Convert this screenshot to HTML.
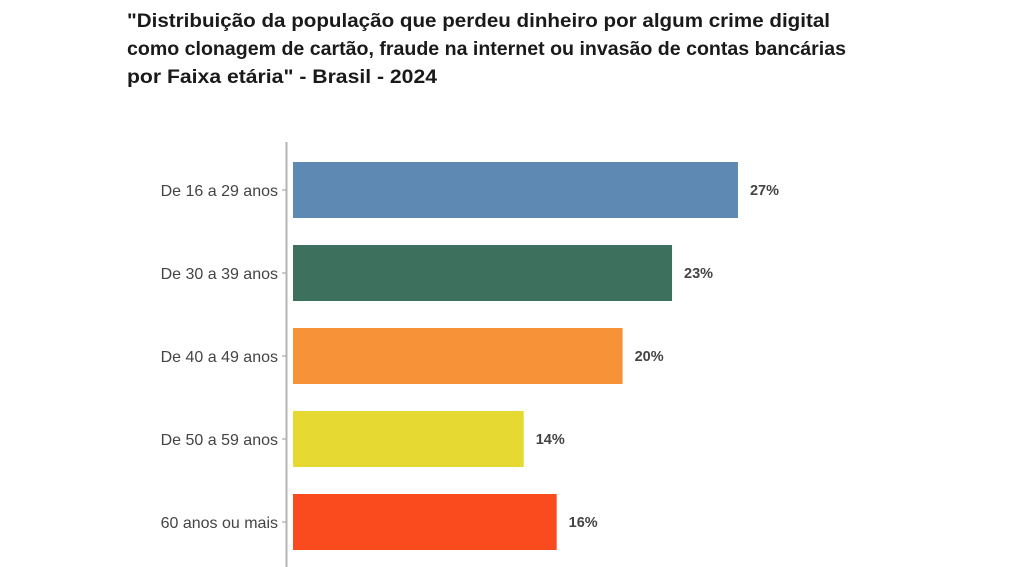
<!DOCTYPE html>
<html><head><meta charset="utf-8"><style>
html,body{margin:0;padding:0;background:#fff;}
svg{display:block;font-family:"Liberation Sans",sans-serif;}
</style></head><body>
<svg id="chart" width="1024" height="567" viewBox="0 0 1024 567">
<g font-weight="bold" font-size="19" fill="#1a1a1a">
<text x="127" y="27" textLength="703" lengthAdjust="spacingAndGlyphs">"Distribuição da população que perdeu dinheiro por algum crime digital</text>
<text x="127" y="55" textLength="719" lengthAdjust="spacingAndGlyphs">como clonagem de cartão, fraude na internet ou invasão de contas bancárias</text>
<text x="127" y="83" textLength="310" lengthAdjust="spacingAndGlyphs">por Faixa etária" - Brasil - 2024</text>
</g>
<line x1="286.5" y1="142" x2="286.5" y2="567" stroke="#b5b5b5" stroke-width="2"/>
<g id="bars"></g>
</svg>
<script>
const categories = ["De 16 a 29 anos","De 30 a 39 anos","De 40 a 49 anos","De 50 a 59 anos","60 anos ou mais"];
const values = [27,23,20,14,16];
const valueLabels = ["27%","23%","20%","14%","16%"];
const colors = ["#5e89b2","#3e705e","#f79239","#e5d932","#fa4b1f"];
const x0 = 293, pxPer = 16.48;
const xs = v => x0 + v*pxPer;
const bandTop = 162, band = 83, barH = 56;
const ys = i => bandTop + i*band;
const ns = "http://www.w3.org/2000/svg";
const g = document.getElementById('bars');
categories.forEach((c,i)=>{
  const y = ys(i);
  const r = document.createElementNS(ns,'rect');
  r.setAttribute('x',x0); r.setAttribute('y',y);
  r.setAttribute('width',xs(values[i])-x0); r.setAttribute('height',barH);
  r.setAttribute('fill',colors[i]);
  
  
  g.appendChild(r);
  const t = document.createElementNS(ns,'line');
  t.setAttribute('x1',282); t.setAttribute('x2',286);
  t.setAttribute('y1',y+barH/2); t.setAttribute('y2',y+barH/2);
  t.setAttribute('stroke','#999'); t.setAttribute('stroke-width','1');
  
  
  g.appendChild(t);
  const l = document.createElementNS(ns,'text');
  l.setAttribute('x',278); l.setAttribute('y',y+barH/2+6);
  l.setAttribute('text-anchor','end'); l.setAttribute('font-size','16');
  l.setAttribute('fill','#444'); l.textContent = c;
  
  
  g.appendChild(l);
  const v = document.createElementNS(ns,'text');
  v.setAttribute('x',xs(values[i])+12); v.setAttribute('y',y+barH/2+5);
  v.setAttribute('font-size','14.5'); v.setAttribute('font-weight','bold');
  v.setAttribute('fill','#444'); v.textContent = valueLabels[i];
  
  
  g.appendChild(v);
});
</script>
</body></html>
